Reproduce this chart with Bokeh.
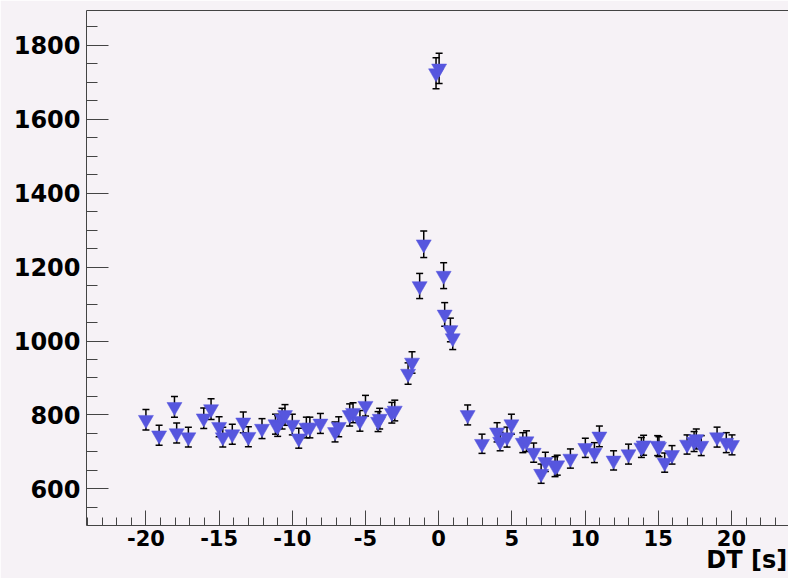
from bokeh.plotting import figure
from bokeh.models import FixedTicker, LinearAxis, Range1d, ColumnDataSource
from bokeh.embed import file_html
from bokeh.resources import INLINE

# ---- data ----
dt = [-20.0, -19.1, -18.05, -17.9, -17.1, -16.05, -15.55, -15.0, -14.75, -14.1,
      -13.35, -13.0, -12.07, -11.15, -11.0, -10.7, -10.5, -10.0, -9.56, -9.04,
      -8.8, -8.08, -7.08, -6.83, -6.08, -5.85, -5.38, -5.0, -4.14, -4.03,
      -3.2, -3.0, -2.09, -1.82, -1.3, -1.02, -0.18, 0.03, 0.34, 0.41,
      0.8, 0.96, 1.98, 2.96, 3.99, 4.2, 4.67, 4.97, 5.75, 6.0,
      6.49, 7.0, 7.29, 7.95, 8.1, 9.0, 10.02, 10.64, 10.98, 11.95,
      12.97, 13.85, 14.0, 14.96, 15.05, 15.44, 15.94, 16.97, 17.45, 17.6,
      17.94, 19.02, 19.65, 20.04]
counts = [787, 745, 822, 751, 740, 791, 816, 768, 740, 748,
          780, 741, 763, 775, 770, 790, 800, 774, 737, 766,
          766, 777, 754, 768, 800, 806, 784, 825, 782, 790,
          806, 812, 912, 942, 1149, 1262, 1725, 1738, 1177, 1072,
          1030, 1008, 800, 722, 753, 728, 740, 775, 725, 729,
          698, 641, 673, 660, 664, 682, 711, 698, 742, 677,
          694, 712, 718, 717, 714, 671, 692, 720, 728, 735,
          717, 740, 725, 719]
errors = [28, 27, 28, 27, 27, 28, 28, 27, 27, 27,
          28, 27, 27, 27, 28, 28, 28, 28, 27, 28,
          28, 27, 27, 27, 30, 27, 28, 28, 27, 28,
          28, 28, 29, 29, 34, 36, 42, 41, 35, 32,
          32, 31, 27, 26, 26, 25, 27, 27, 27, 28,
          26, 26, 26, 27, 27, 26, 26, 27, 28, 26,
          27, 27, 27, 27, 27, 26, 25, 26, 27, 27,
          27, 27, 27, 27]

x_major = [-20, -15, -10, -5, 0, 5, 10, 15, 20]
x_minor = list(range(-24, 24))
y_major = [600, 800, 1000, 1200, 1400, 1600, 1800]
y_minor = list(range(500, 1900, 50))
x_title = "DT [s]"

BG = "#F6F2F6"
FONT = "DejaVu Sans"

lower = [c - e for c, e in zip(counts, errors)]
upper = [c + e for c, e in zip(counts, errors)]
src = ColumnDataSource(dict(x=dt, y=counts, lo=lower, hi=upper))

p = figure(width=788, height=578, output_backend="svg", toolbar_location=None,
           x_range=Range1d(-24.06, 23.9), y_range=Range1d(500.8, 1894.6),
           x_axis_location="below", y_axis_location="left")
p.min_border_left = 86
p.min_border_right = 0
p.min_border_top = 10
p.min_border_bottom = 53
p.background_fill_color = BG
p.border_fill_color = BG
p.outline_line_color = None
p.grid.visible = False

# error bars
p.segment(x0="x", y0="lo", x1="x", y1="hi", source=src, line_color="black", line_width=1.5)
p.dash(x="x", y="lo", source=src, size=7, line_color="black", line_width=1.5)
p.dash(x="x", y="hi", source=src, size=7, line_color="black", line_width=1.5)
# markers
p.scatter(x="x", y="y", source=src, marker="inverted_triangle", size=15,
          fill_color="#5656DE", line_color="#5656DE", line_width=0.5)

# x axis
xa = p.xaxis[0]
xa.ticker = FixedTicker(ticks=x_major, minor_ticks=x_minor)
xa.major_label_overrides = {t: str(t) for t in x_major}
xa.major_tick_in = 15
xa.major_tick_out = 0
xa.minor_tick_in = 8
xa.minor_tick_out = 0
xa.major_label_standoff = 4
xa.major_label_text_font = FONT
xa.major_label_text_font_style = "bold"
xa.major_label_text_font_size = "21px"
xa.major_label_text_color = "black"
# the label is centred on the axis end; trailing figure spaces push the visible text left of it
xa.axis_label = x_title + "\u2007" * 5
xa.axis_label_align = "end"
xa.axis_label_standoff = -3
xa.axis_label_text_font = FONT
xa.axis_label_text_font_style = "bold"
xa.axis_label_text_font_size = "24px"
xa.axis_label_text_color = "black"
for attr in ("axis_line_color", "major_tick_line_color", "minor_tick_line_color"):
    setattr(xa, attr, "#444444")

# y axis
ya = p.yaxis[0]
ya.ticker = FixedTicker(ticks=y_major, minor_ticks=y_minor)
ya.major_label_overrides = {t: str(t) for t in y_major}
ya.major_tick_in = 22
ya.major_tick_out = 0
ya.minor_tick_in = 11
ya.minor_tick_out = 0
ya.major_label_standoff = 6
ya.major_label_text_font = FONT
ya.major_label_text_font_style = "bold"
ya.major_label_text_font_size = "24px"
ya.major_label_text_color = "black"
for attr in ("axis_line_color", "major_tick_line_color", "minor_tick_line_color"):
    setattr(ya, attr, "#444444")

# top frame line
top = LinearAxis(ticker=FixedTicker(ticks=[]), axis_line_color="#444444",
                 major_tick_line_color=None, minor_tick_line_color=None,
                 major_label_text_font_size="0px")
p.add_layout(top, "above")

open("out.html", "w").write(file_html(p, INLINE))
